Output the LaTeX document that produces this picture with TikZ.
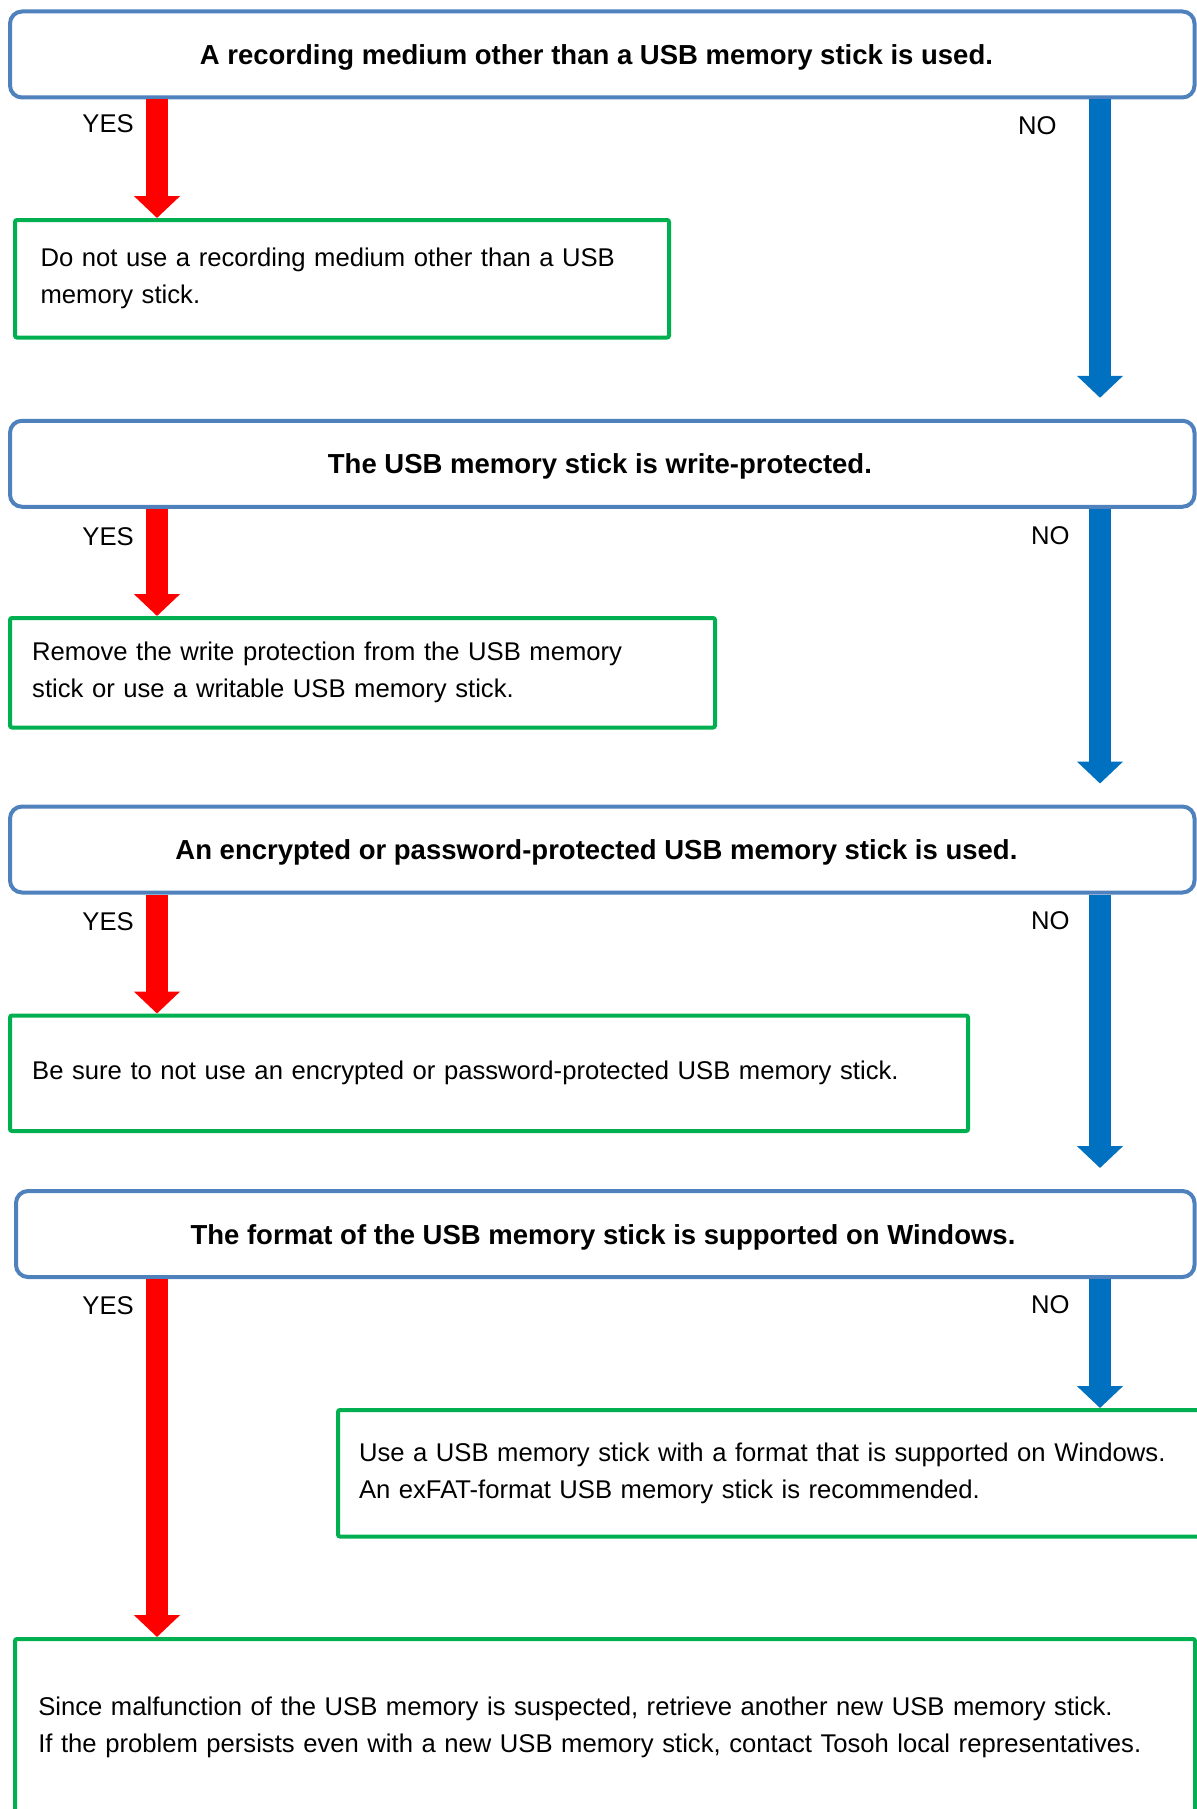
\documentclass[tikz,border=0pt]{standalone}
\usepackage{fontspec}
\setmainfont{Liberation Sans}
\usetikzlibrary{arrows.meta,calc}
\definecolor{qblue}{HTML}{4F81BD}
\definecolor{agreen}{HTML}{00B050}
\definecolor{yred}{HTML}{FF0000}
\definecolor{nblue}{HTML}{0070C0}
\begin{document}
\begin{tikzpicture}[x=0.5pt,y=-0.5pt,
  question/.style={draw=qblue, line width=2pt, rounded corners=6pt, fill=white,
    minimum height=43pt, inner sep=0pt, align=center,
    font=\fontsize{13.75pt}{17pt}\selectfont\bfseries, text height=10pt, text depth=0pt},
  answer/.style={draw=agreen, line width=2pt, rounded corners=1pt, fill=white,
    inner xsep=10.5pt, inner ysep=0pt, align=left,
    font=\fontsize{12.82pt}{18.5pt}\selectfont},
  yeslabel/.style={anchor=west, inner sep=0pt, font=\fontsize{12.82pt}{15pt}\selectfont},
  nolabel/.style={anchor=east, inner sep=0pt, font=\fontsize{12.82pt}{15pt}\selectfont},
  yesarrow/.style={color=yred, line width=11pt, -{Triangle[width=22.5pt,length=11pt]}},
  noarrow/.style={color=nblue, line width=11pt, -{Triangle[width=22.5pt,length=11pt]}},
]
\useasboundingbox (0,0) rectangle (1197,1809);
\clip (0,0) rectangle (1197,1809);

\coordinate (ycol) at (157,0);
\coordinate (ncol) at (1100,0);

% questions
\node[question, minimum width=592.25pt] (q1) at (602.25,54.5)
  {A recording medium other than a USB memory stick is used.\kern5.8pt};
\node[question, minimum width=592.25pt] (q2) at (602.25,463.75)
  {The USB memory stick is write-protected.\kern2.3pt};
\node[question, minimum width=592.25pt] (q3) at (602.25,849.5)
  {An encrypted or password-protected USB memory stick is used.\kern5.8pt};
\node[question, minimum width=589.25pt] (q4) at (605.25,1234)
  {The format of the USB memory stick is supported on Windows.\kern2.3pt};

% answers
\node[answer, minimum height=58.75pt, text width=306pt] (a1) at (342,278.75)
  {\hspace*{2.3pt}Do not use a recording medium other than a USB\\\hspace*{2.3pt}memory stick.};
\node[answer, minimum height=54.75pt, text width=331.5pt] (a2) at (362.5,672.75)
  {\hspace*{0.6pt}Remove the write protection from the USB memory\\\hspace*{0.6pt}stick or use a writable USB memory stick.};
\node[answer, minimum height=57.75pt, text width=458pt] (a3) at (489,1073.25)
  {\hspace*{0.6pt}Be sure to not use an encrypted or password-protected USB memory stick.};
\node[answer, minimum height=63.25pt, text width=417.5pt] (a4) at (776.5,1473.25)
  {Use a USB memory stick with a format that is supported on Windows.\\An exFAT-format USB memory stick is recommended.};
\node[answer, minimum height=88pt, text width=569pt] (a5) at (605,1727)
  {\hspace*{1.15pt}Since malfunction of the USB memory is suspected, retrieve another new USB memory stick.\\\hspace*{1.15pt}If the problem persists even with a new USB memory stick, contact Tosoh local representatives.};

% labels
\node[yeslabel] (y1) at (82,124) {YES};
\node[yeslabel] (y2) at (82,537) {YES};
\node[yeslabel] (y3) at (82,922) {YES};
\node[yeslabel] (y4) at (82,1306) {YES};
\node[nolabel] (n1) at (1057,126) {NO};
\node[nolabel] (n2) at (1070,536) {NO};
\node[nolabel] (n3) at (1070,921) {NO};
\node[nolabel] (n4) at (1070,1304.5) {NO};

% arrows
\draw[yesarrow] (q1.south -| ycol) -- (a1.north -| ycol);
\draw[yesarrow] (q2.south -| ycol) -- (a2.north -| ycol);
\draw[yesarrow] (q3.south -| ycol) -- (a3.north -| ycol);
\draw[yesarrow] (q4.south -| ycol) -- (a5.north -| ycol);
\draw[noarrow] (q1.south -| ncol) -- ($(q2.north -| ncol)+(0,-21)$);
\draw[noarrow] (q2.south -| ncol) -- ($(q3.north -| ncol)+(0,-21)$);
\draw[noarrow] (q3.south -| ncol) -- ($(q4.north -| ncol)+(0,-21)$);
\draw[noarrow] (q4.south -| ncol) -- (a4.north -| ncol);
\end{tikzpicture}
\end{document}
